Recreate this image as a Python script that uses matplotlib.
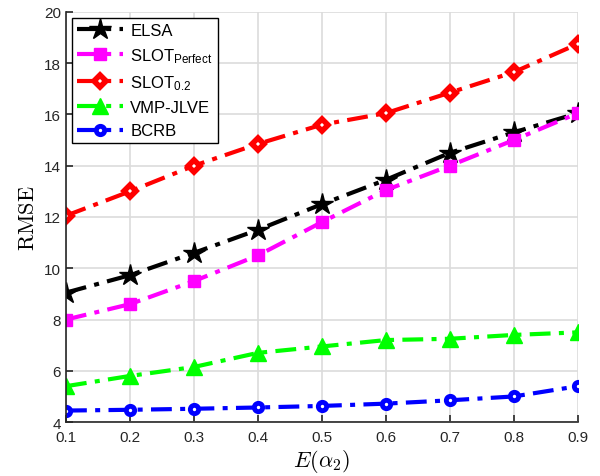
import matplotlib
matplotlib.use('Agg')
import matplotlib.pyplot as plt
from matplotlib.font_manager import FontProperties
import numpy as np

# E(alpha_2) values and RMSE per method
alpha = [0.1, 0.2, 0.3, 0.4, 0.5, 0.6, 0.7, 0.8, 0.9]
elsa = [9.05, 9.73, 10.6, 11.5, 12.5, 13.45, 14.5, 15.3, 16.05]
slot_perfect = [8.0, 8.6, 9.5, 10.5, 11.8, 13.05, 14.0, 15.0, 16.05]
slot_02 = [12.05, 13.0, 14.0, 14.85, 15.6, 16.05, 16.85, 17.65, 18.75]
vmp_jlve = [5.4, 5.8, 6.15, 6.7, 6.95, 7.2, 7.25, 7.4, 7.5]
bcrb = [4.45, 4.48, 4.52, 4.57, 4.63, 4.72, 4.85, 5.0, 5.4]

plt.rcParams['font.family'] = ['Liberation Sans', 'DejaVu Sans']
plt.rcParams['mathtext.fontset'] = 'custom'
plt.rcParams['mathtext.rm'] = 'Liberation Sans'
plt.rcParams['mathtext.it'] = 'Liberation Sans:italic'

fig = plt.figure(figsize=(6.0, 4.77), dpi=100)
ax = fig.add_axes([0.11, 0.113, 0.853, 0.86])

ls = (0, (5, 2, 1.2, 2))
ax.plot(alpha, elsa, color='black', ls=ls, lw=3, marker='*', ms=16, label='ELSA')
ax.plot(alpha, slot_perfect, color='#ff00ff', ls=ls, lw=3, marker='s', ms=9,
        label=r'SLOT$_{\mathrm{Perfect}}$')
ax.plot(alpha, slot_02, color='red', ls=ls, lw=3, marker='D', ms=6.5, mfc='white', mew=4,
        label=r'SLOT$_{\mathrm{0.2}}$')
ax.plot(alpha, vmp_jlve, color='#00ff00', ls=ls, lw=3, marker='^', ms=12, label='VMP-JLVE')
ax.plot(alpha, bcrb, color='blue', ls=ls, lw=3, marker='o', ms=6, mfc='white', mew=3.5,
        label='BCRB')

ax.set_xlim(0.1, 0.9)
ax.set_ylim(4, 20)
ax.set_xticks(alpha)
ax.set_xticklabels([str(a) for a in alpha])
ax.set_yticks(np.arange(4, 21, 2))
ax.grid(True, color='#dcdcdc', lw=1.2)
ax.set_axisbelow(True)
for s in ['top', 'right']:
    ax.spines[s].set_visible(False)
for s in ['left', 'bottom']:
    ax.spines[s].set_linewidth(1.2)
    ax.spines[s].set_color('#262626')
ax.tick_params(direction='in', length=5, labelsize=11, colors='#262626', width=1.2)
ax.tick_params(axis='x', pad=6)

ax.set_xlabel(r'$E(\alpha_2)$', fontsize=16, labelpad=2, math_fontfamily='cm')
ax.set_ylabel(r'$\mathrm{RMSE}$', fontsize=16, labelpad=4, math_fontfamily='cm')

leg = ax.legend(loc='upper left', prop=FontProperties(family='Liberation Sans', size=12),
                fancybox=False, edgecolor='black', framealpha=1, handlelength=2.8,
                borderaxespad=0.35, labelspacing=0.5, handletextpad=0.4, borderpad=0.3)
leg.get_frame().set_linewidth(1.0)

fig.savefig('out.png', dpi=100)
